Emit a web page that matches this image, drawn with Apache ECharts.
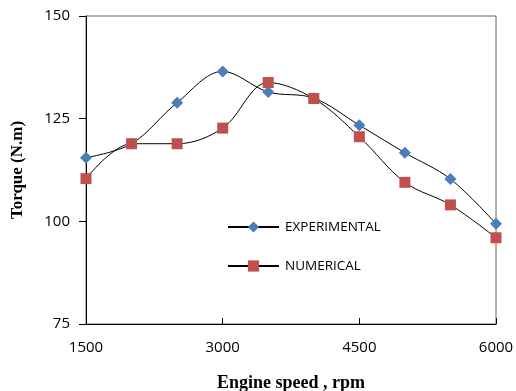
<!DOCTYPE html>
<html><head><meta charset="utf-8">
<script src="https://cdn.jsdelivr.net/npm/echarts@6/dist/echarts.min.js"></script>
<style>html,body{margin:0;padding:0;background:#fff}#c{width:516px;height:391px}</style>
</head><body><div id="c"></div>
<script>
const speeds = [1500, 2000, 2500, 3000, 3500, 4000, 4500, 5000, 5500, 6000];
const experimental = [115.5, 118.9, 128.9, 136.5, 131.5, 130.0, 123.4, 116.7, 110.3, 99.4];
const numerical = [110.4, 118.9, 118.9, 122.7, 133.8, 129.9, 120.6, 109.5, 104.0, 96.0];
const xTicks = [1500, 3000, 4500, 6000];
const yTicks = [75, 100, 125, 150];

const chart = echarts.init(document.getElementById('c'), null, {renderer: 'canvas'});
const pair = (ys) => speeds.map((x, i) => [x, ys[i]]);
chart.setOption({
  animation: false,
  backgroundColor: '#fff',
  grid: {left: 86, right: 20, top: 16, bottom: 67, show: true, borderColor: '#666', borderWidth: 1,
         containLabel: false, outerBoundsMode: 'none'},
  legend: {
    left: 222, top: 215, orient: 'vertical', itemGap: 25, itemWidth: 51, itemHeight: 14,
    textStyle: {fontFamily: 'Open Sans', fontSize: 13.5, color: '#000', padding: [0, 0, 0, 1]},
    data: ['EXPERIMENTAL', 'NUMERICAL']
  },
  xAxis: {
    type: 'value', min: xTicks[0], max: xTicks[xTicks.length - 1], interval: 1500,
    name: 'Engine speed , rpm', nameLocation: 'middle', nameGap: 50,
    nameTextStyle: {fontFamily: 'Liberation Serif', fontWeight: 'bold', fontSize: 18, color: '#000'},
    axisLine: {lineStyle: {color: '#000', width: 1}},
    axisTick: {inside: true, length: 6, lineStyle: {color: '#000'}},
    axisLabel: {fontFamily: 'Open Sans', fontSize: 15, color: '#000', margin: 16, formatter: (v) => String(v)},
    splitLine: {show: false}
  },
  yAxis: {
    type: 'value', min: yTicks[0], max: yTicks[yTicks.length - 1], interval: 25,
    name: 'Torque (N.m)', nameLocation: 'middle', nameGap: 60, nameRotate: 90,
    nameTextStyle: {fontFamily: 'Liberation Serif', fontWeight: 'bold', fontSize: 17, color: '#000'},
    axisLine: {show: true, lineStyle: {color: '#000', width: 1}},
    axisTick: {show: true, inside: false, length: 7, lineStyle: {color: '#000'}},
    axisLabel: {fontFamily: 'Open Sans', fontSize: 15, color: '#000', margin: 16, formatter: (v) => String(v)},
    splitLine: {show: false}
  },
  series: [
    {
      name: 'EXPERIMENTAL', type: 'line', smooth: 0.35, data: pair(experimental),
      symbol: 'diamond', symbolSize: 12,
      itemStyle: {color: '#4A7EBB'},
      lineStyle: {color: '#000', width: 1}
    },
    {
      name: 'NUMERICAL', type: 'line', smooth: 0.35, data: pair(numerical),
      symbol: 'rect', symbolSize: 11,
      itemStyle: {color: '#C0504D'},
      lineStyle: {color: '#000', width: 1}
    }
  ]
});
</script></body></html>
